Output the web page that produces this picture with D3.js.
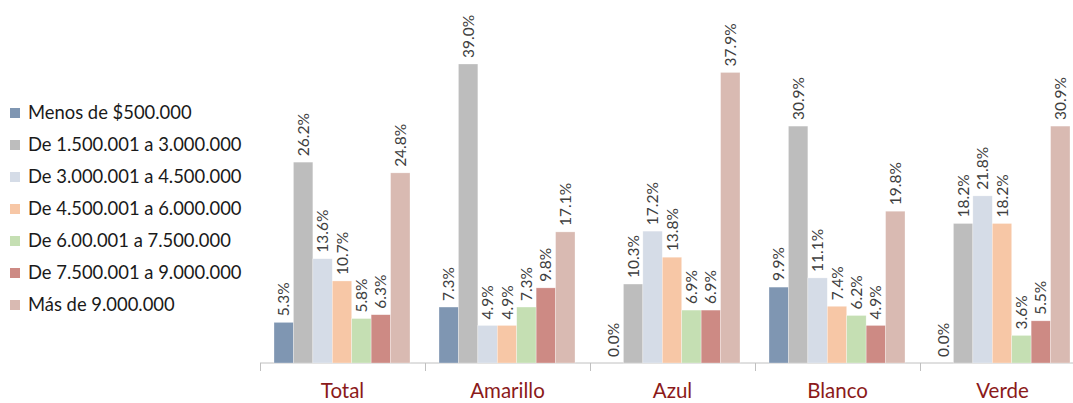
<!DOCTYPE html>
<html><head><meta charset="utf-8">
<script src="https://cdn.jsdelivr.net/npm/d3@7"></script>
<style>body{margin:0;background:#fff;font-family:Lato,"Open Sans",sans-serif;}</style>
</head><body>
<svg id="c" width="1073" height="403"></svg>
<script>
const categories = ["Total","Amarillo","Azul","Blanco","Verde"];
const seriesNames = ["Menos de $500.000","De 1.500.001 a 3.000.000","De 3.000.001 a 4.500.000","De 4.500.001 a 6.000.000","De 6.00.001 a 7.500.000","De 7.500.001 a 9.000.000","Más de 9.000.000"];
const s1 = [5.3, 7.3, 0.0, 9.9, 0.0];
const s2 = [26.2, 39.0, 10.3, 30.9, 18.2];
const s3 = [13.6, 4.9, 17.2, 11.1, 21.8];
const s4 = [10.7, 4.9, 13.8, 7.4, 18.2];
const s5 = [5.8, 7.3, 6.9, 6.2, 3.6];
const s6 = [6.3, 9.8, 6.9, 4.9, 5.5];
const s7 = [24.8, 17.1, 37.9, 19.8, 30.9];
const seriesValues = [s1,s2,s3,s4,s5,s6,s7];
const colors = ["#7f96b2","#bdbdbd","#d5dce7","#f7c7a6","#c5dfb3","#cd8a84","#d9bab2"];

const svg = d3.select("#c");
const x0 = d3.scaleBand().domain(categories).range([260,1085]).paddingInner(0).paddingOuter(0);
const x1 = d3.scaleBand().domain(d3.range(7)).range([14, x0.bandwidth()-15]).padding(0);
const y = d3.scaleLinear().domain([0,39]).range([363,64]);

const ax = svg.append("g").attr("transform","translate(0,363)");
ax.append("line").attr("x1",260).attr("x2",1085).attr("y1",0).attr("y2",0).attr("stroke","#c0c0c0").attr("stroke-width",1);
categories.forEach(c=>{
  ax.append("line").attr("x1",x0(c)+0.5).attr("x2",x0(c)+0.5).attr("y1",0).attr("y2",8).attr("stroke","#c0c0c0");
});
ax.selectAll("text.cat").data(categories).join("text")
  .attr("x",d=>x0(d)+x0.bandwidth()/2).attr("y",35)
  .attr("text-anchor","middle").attr("font-size",20.5).attr("fill","#8b1a1a").text(d=>d);

categories.forEach((c,ci)=>{
  const g = svg.append("g").attr("transform",`translate(${x0(c)},0)`);
  seriesValues.forEach((vals,si)=>{
    const v = vals[ci];
    if (v>0) {
      g.append("rect").attr("x",x1(si)).attr("width",x1.bandwidth())
        .attr("y",y(v)).attr("height",y(0)-y(v))
        .attr("fill",colors[si]).attr("stroke","#ffffff").attr("stroke-opacity",0.5).attr("stroke-width",0.6);
    }
    const cx = x1(si)+x1.bandwidth()/2 + 5.5;
    const ty = y(v)-6;
    g.append("text").attr("transform",`translate(${cx},${ty}) rotate(-90)`)
      .attr("font-size",15.5).attr("fill","#404040").attr("text-anchor","start")
      .text(v.toFixed(1)+"%");
  });
});

const lg = svg.append("g");
seriesNames.forEach((n,i)=>{
  const yy = 113 + i*32;
  lg.append("rect").attr("x",10).attr("y",yy-5).attr("width",10).attr("height",10).attr("fill",colors[i]);
  lg.append("text").attr("x",28).attr("y",yy+6).attr("font-size",18.4).attr("fill","#1a1a1a").text(n);
});
</script>
</body></html>
